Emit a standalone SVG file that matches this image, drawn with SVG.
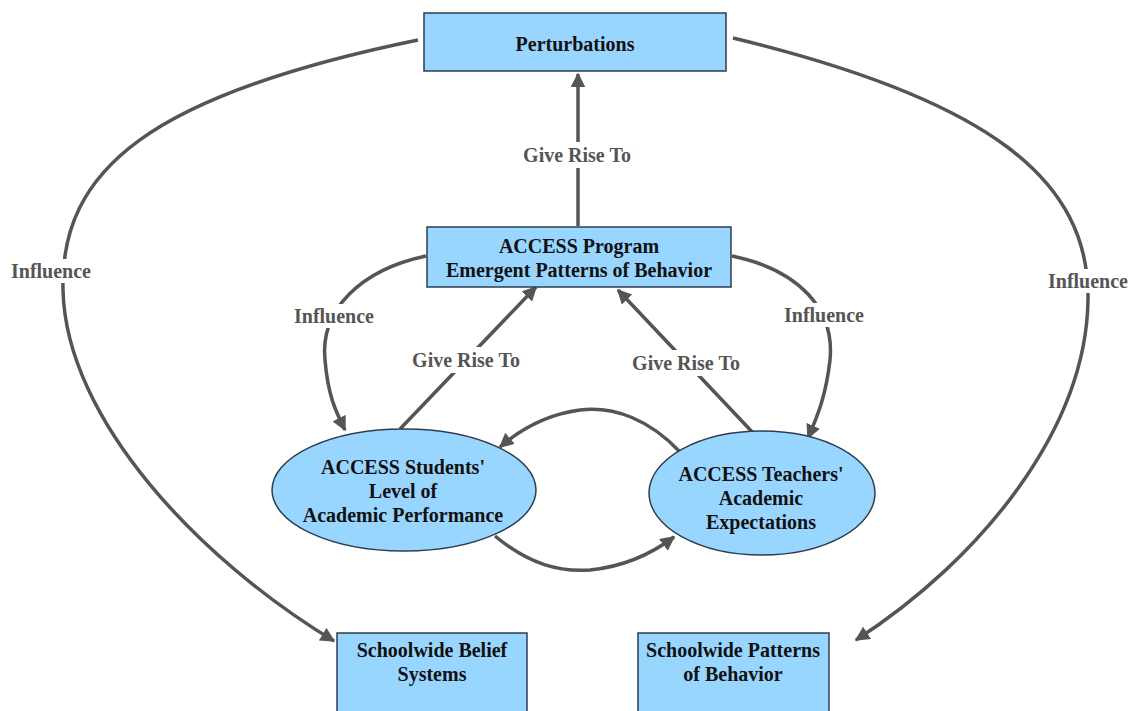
<svg xmlns="http://www.w3.org/2000/svg" width="1130" height="711" viewBox="0 0 1130 711">
  <defs>
    <marker id="arrow" viewBox="0 0 10 10" refX="9" refY="5" markerWidth="4.2" markerHeight="4.2" orient="auto" markerUnits="strokeWidth">
      <path d="M0,0 L10,5 L0,10 z" fill="#555555"/>
    </marker>
    <style>
      .box { fill: #99D6FF; stroke: #2c3e50; stroke-width: 1.5; }
      .node-text { font-family: "Liberation Serif", "Times New Roman", serif; font-weight: bold; font-size: 20px; fill: #111111; text-anchor: middle; }
      .edge { fill: none; stroke: #555555; stroke-width: 3.5; marker-end: url(#arrow); }
      .edge-label { font-family: "Liberation Serif", "Times New Roman", serif; font-weight: bold; font-size: 20px; fill: #555555; text-anchor: middle; }
    </style>
  </defs>
  <rect width="1130" height="711" fill="#ffffff"/>

  <g id="connectors">
    <!-- program gives rise to perturbations -->
    <path class="edge" d="M578,226 L578,74"/>
    <!-- perturbations influence schoolwide beliefs -->
    <path class="edge" d="M418,40 C150,95 60,170 63,290 C66,420 200,560 334,641"/>
    <!-- perturbations influence schoolwide behaviour -->
    <path class="edge" d="M733,38 C990,100 1090,180 1088,300 C1086,430 980,560 856,640"/>
    <!-- program influences students -->
    <path class="edge" d="M426,256 C360,270 320,310 325,360 C328,395 335,410 345,430"/>
    <!-- program influences teachers -->
    <path class="edge" d="M732,256 C800,270 835,310 830,360 C826,395 818,415 808,438"/>
    <!-- students give rise to program -->
    <path class="edge" d="M400,429 L536,287"/>
    <!-- teachers give rise to program -->
    <path class="edge" d="M756,436 L618,290"/>
    <!-- teachers to students -->
    <path class="edge" d="M680,452 C650,420 615,406 580,410 C550,414 522,428 500,447"/>
    <!-- students to teachers -->
    <path class="edge" d="M495,536 C530,565 560,572 590,570 C620,567 650,555 674,537"/>
  </g>

  <g id="edge-labels">
    <rect x="516" y="142" width="122" height="26" fill="#ffffff"/>
    <text class="edge-label" x="577" y="162">Give Rise To</text>
    <rect x="8" y="259" width="88" height="24" fill="#ffffff"/>
    <text class="edge-label" x="51" y="278">Influence</text>
    <rect x="1044" y="269" width="88" height="24" fill="#ffffff"/>
    <text class="edge-label" x="1088" y="288">Influence</text>
    <rect x="290" y="304" width="88" height="24" fill="#ffffff"/>
    <text class="edge-label" x="334" y="323">Influence</text>
    <rect x="780" y="303" width="88" height="24" fill="#ffffff"/>
    <text class="edge-label" x="824" y="322">Influence</text>
    <rect x="405" y="347" width="122" height="26" fill="#ffffff"/>
    <text class="edge-label" x="466" y="367">Give Rise To</text>
    <rect x="625" y="350" width="122" height="26" fill="#ffffff"/>
    <text class="edge-label" x="686" y="370">Give Rise To</text>
  </g>

  <g id="perturbations">
    <rect class="box" x="424" y="13" width="302" height="58"/>
    <text class="node-text" x="575" y="51">Perturbations</text>
  </g>

  <g id="program-patterns">
    <rect class="box" x="427" y="227" width="304" height="60"/>
    <text class="node-text" x="579" y="253">ACCESS Program</text>
    <text class="node-text" x="579" y="277">Emergent Patterns of Behavior</text>
  </g>

  <g id="students-performance">
    <ellipse class="box" cx="404" cy="490" rx="132" ry="61"/>
    <text class="node-text" x="403" y="474">ACCESS Students'</text>
    <text class="node-text" x="403" y="498">Level of</text>
    <text class="node-text" x="403" y="522">Academic Performance</text>
  </g>

  <g id="teachers-expectations">
    <ellipse class="box" cx="762" cy="493" rx="113" ry="62"/>
    <text class="node-text" x="761" y="481">ACCESS Teachers'</text>
    <text class="node-text" x="761" y="505">Academic</text>
    <text class="node-text" x="761" y="529">Expectations</text>
  </g>

  <g id="schoolwide-beliefs">
    <rect class="box" x="337" y="633" width="190" height="90"/>
    <text class="node-text" x="432" y="657">Schoolwide Belief</text>
    <text class="node-text" x="432" y="681">Systems</text>
  </g>

  <g id="schoolwide-behavior">
    <rect class="box" x="638" y="633" width="191" height="90"/>
    <text class="node-text" x="733" y="657">Schoolwide Patterns</text>
    <text class="node-text" x="733" y="681">of Behavior</text>
  </g>
</svg>
